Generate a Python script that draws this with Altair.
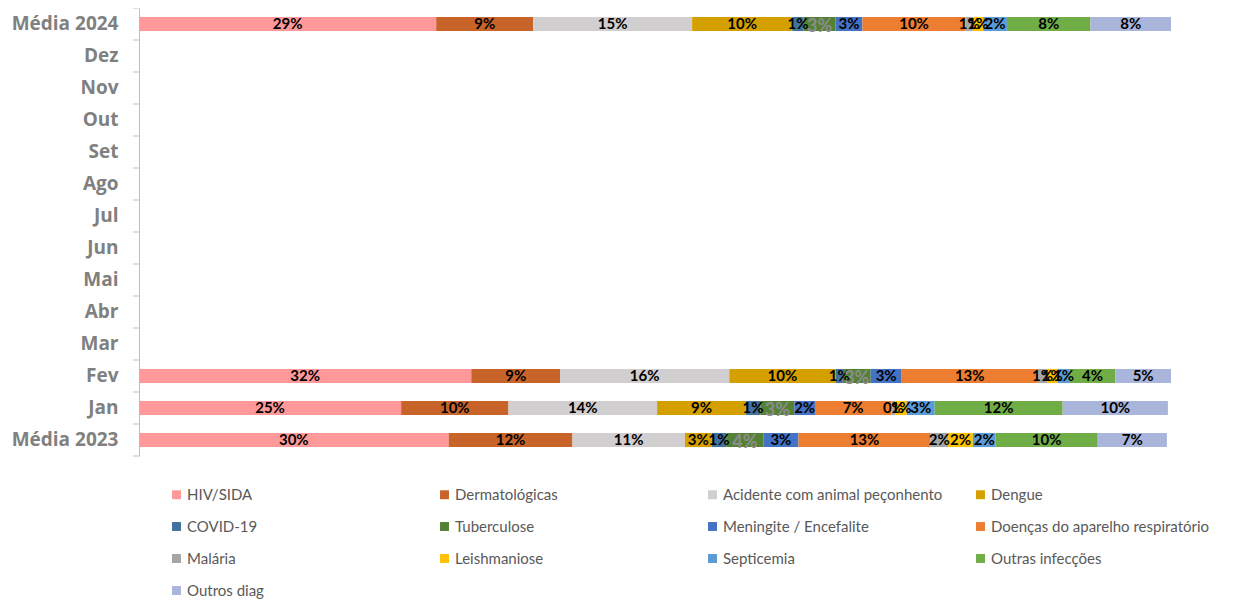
import altair as alt
import pandas as pd

categories = ["Média 2024", "Dez", "Nov", "Out", "Set", "Ago", "Jul", "Jun",
              "Mai", "Abr", "Mar", "Fev", "Jan", "Média 2023"]

series = ["HIV/SIDA", "Dermatológicas", "Acidente com animal peçonhento", "Dengue",
          "COVID-19", "Tuberculose", "Meningite / Encefalite",
          "Doenças do aparelho respiratório", "Malária", "Leishmaniose",
          "Septicemia", "Outras infecções", "Outros diag"]

colors = ["#FF9999", "#C8642A", "#D0CECE", "#D4A000", "#41719C", "#548235",
          "#4472C4", "#ED7D31", "#A5A5A5", "#FFC000", "#5B9BD5", "#70AD47",
          "#A9B5DB"]

media_2024 = [0.288, 0.094, 0.154, 0.097, 0.011, 0.031, 0.026, 0.100, 0.007, 0.010, 0.023, 0.081, 0.078]
fev = [0.322, 0.086, 0.164, 0.103, 0.007, 0.027, 0.030, 0.132, 0.009, 0.010, 0.012, 0.044, 0.054]
jan = [0.254, 0.104, 0.144, 0.086, 0.014, 0.033, 0.020, 0.074, 0.004, 0.011, 0.027, 0.124, 0.102]
media_2023 = [0.300, 0.120, 0.109, 0.026, 0.014, 0.036, 0.034, 0.128, 0.017, 0.024, 0.022, 0.099, 0.067]

rows_data = {"Média 2024": media_2024, "Fev": fev, "Jan": jan, "Média 2023": media_2023}

records = []
for cat, vals in rows_data.items():
    for i, (s, v) in enumerate(zip(series, vals)):
        records.append({"cat": cat, "serie": s, "idx": i, "value": v})
df = pd.DataFrame(records)

FONT = "Lato"
n = len(categories)
H = 448
W = 1032
pin = 0.56
step = H / n
gap_half = step * pin / 2

yscale = alt.Scale(domain=categories, paddingInner=pin, paddingOuter=pin / 2)
xscale = alt.Scale(domain=[0, 1], nice=False)

base = alt.Chart(df).transform_stack(
    stack="value", groupby=["cat"], as_=["x0", "x1"],
    sort=[alt.SortField("idx", order="ascending")]
).transform_calculate(mid="(datum.x0 + datum.x1) / 2")

bars = base.mark_bar().encode(
    y=alt.Y("cat:N", scale=yscale, title=None,
            axis=alt.Axis(labelFont="Open Sans", labelFontSize=19, labelFontWeight="bold",
                          labelColor="#808080", ticks=False, domainColor="#BFBFBF",
                          labelPadding=21)),
    x=alt.X("x0:Q", scale=xscale, axis=None),
    x2="x1:Q",
    color=alt.Color("serie:N", scale=alt.Scale(domain=series, range=colors),
                    legend=alt.Legend(title=None, orient="none", legendX=30, legendY=479,
                                      direction="horizontal",
                                      columns=4, gridAlign="all", columnPadding=30,
                                      rowPadding=16, symbolType="square", symbolSize=80,
                                      symbolStrokeWidth=0, labelFont=FONT, labelFontSize=15,
                                      labelColor="#595959", labelLimit=300, labelOffset=3)),
)

labels = base.mark_text(font=FONT, fontWeight="bold", fontSize=15, color="#000000",
                        baseline="middle").encode(
    y=alt.Y("cat:N", scale=yscale),
    x=alt.X("mid:Q", scale=xscale),
    text=alt.Text("value:Q", format=".0%"),
).transform_filter(alt.datum.serie != "Tuberculose")

tb_labels = base.mark_text(font=FONT, fontWeight="bold", fontSize=18, color="#8C8C8C",
                           baseline="middle", dy=3).encode(
    y=alt.Y("cat:N", scale=yscale),
    x=alt.X("mid:Q", scale=xscale),
    text=alt.Text("value:Q", format=".0%"),
).transform_filter(alt.datum.serie == "Tuberculose")

ticks_df = pd.DataFrame({"cat": categories})
ticks = alt.Chart(ticks_df).mark_rule(color="#BFBFBF", yOffset=-gap_half).encode(
    y=alt.Y("cat:N", scale=yscale, bandPosition=0),
    x=alt.value(-6), x2=alt.value(0),
)
ticks_end = alt.Chart(ticks_df).mark_rule(color="#BFBFBF", yOffset=gap_half).encode(
    y=alt.Y("cat:N", scale=yscale, bandPosition=1),
    x=alt.value(-6), x2=alt.value(0),
).transform_filter(alt.datum.cat == "Média 2023")

chart = alt.layer(bars, labels, tb_labels, ticks, ticks_end).properties(
    width=W, height=H,
    autosize=alt.AutoSizeParams(type="none"),
    padding={"left": 131, "top": 0, "right": 60, "bottom": 148},
).configure(background="white").configure_view(stroke=None, strokeWidth=0)

chart.save("out.html", embed_options={"renderer": "svg", "actions": False})
